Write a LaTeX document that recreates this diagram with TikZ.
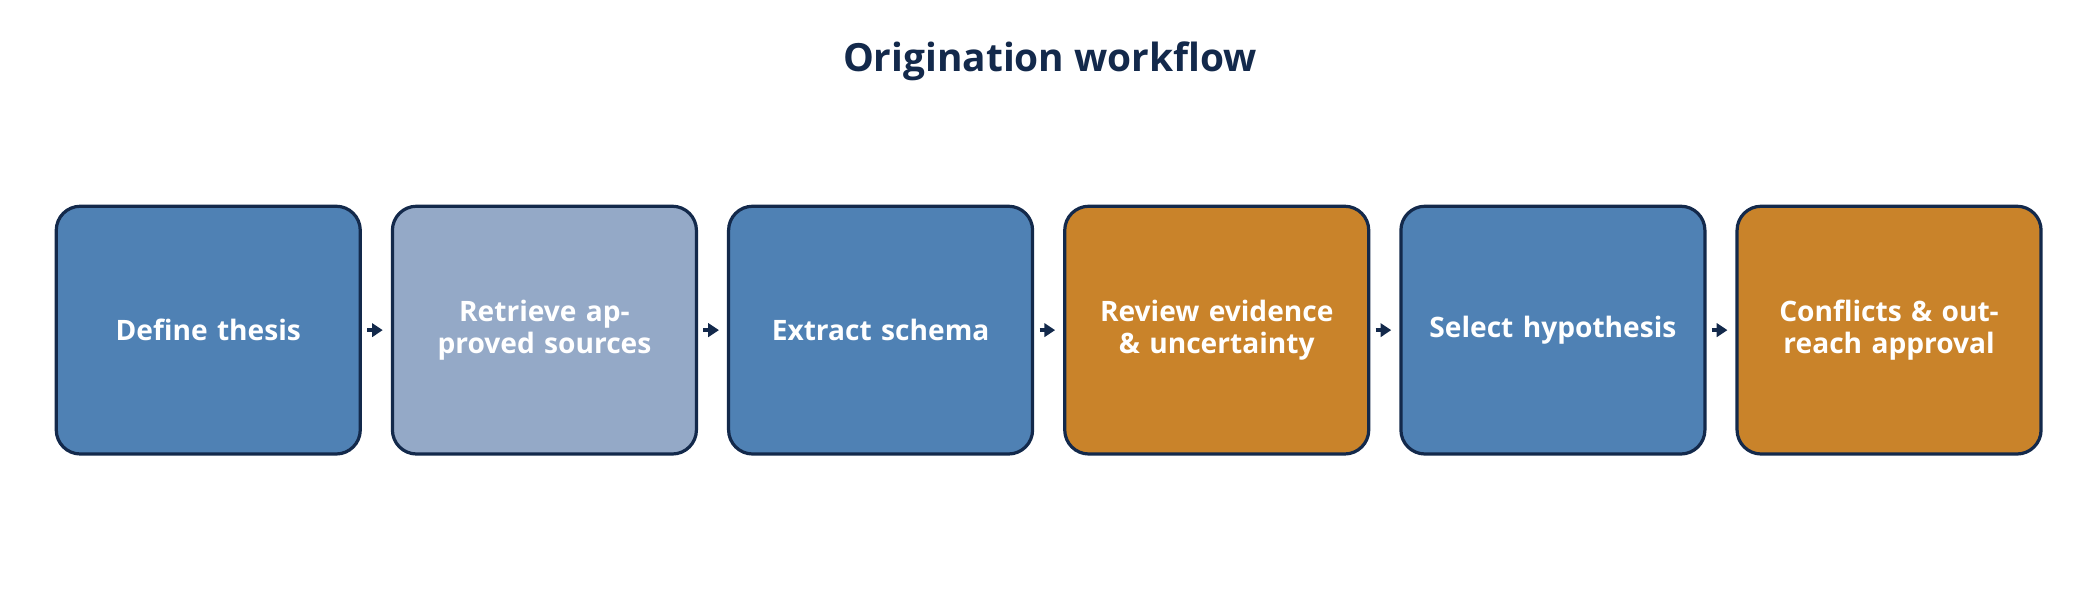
\documentclass[tikz,border=0pt]{standalone}
\usepackage{fontspec}
\setmainfont{Open Sans}
\usetikzlibrary{arrows.meta}
\definecolor{navy}{HTML}{13294B}
\definecolor{bl}{HTML}{4F81B4}
\definecolor{lb}{HTML}{94A9C7}
\definecolor{og}{HTML}{C9832A}
\begin{document}
\begin{tikzpicture}[x=0.5pt,y=-0.5pt,
  box/.style={draw=navy,line width=1.2pt,rounded corners=9pt,minimum width=113.5pt,minimum height=92.5pt,text width=105pt,align=center,font=\fontsize{10.5}{12}\selectfont\bfseries,text=white,inner sep=0pt},
  arr/.style={-{Triangle[length=4pt,width=5pt]},line width=1.3pt,draw=navy,shorten >=1pt}]
\useasboundingbox (0,0) rectangle (1568,448);
\node[font=\fontsize{14.5}{16}\selectfont\bfseries,text=navy] (t) at (784,46) {Origination workflow};
\node[box,fill=bl] (a) at (155.5,246.5) {Define thesis};
\node[box,fill=lb] (b) at (406.5,246.5) {Retrieve approved sources};
\node[box,fill=bl] (c) at (657.5,246.5) {Extract schema};
\node[box,fill=og] (d) at (908.5,246.5) {Review evidence \& uncertainty};
\node[box,fill=bl] (e) at (1159.5,246.5) {Select hypothesis};
\node[box,fill=og] (f) at (1410.5,246.5) {Conflicts \& outreach approval};
\foreach \u/\v in {a/b,b/c,c/d,d/e,e/f}
  \draw[arr] ([xshift=2pt]\u.east) -- ([xshift=-2pt]\v.west);
\end{tikzpicture}
\end{document}
